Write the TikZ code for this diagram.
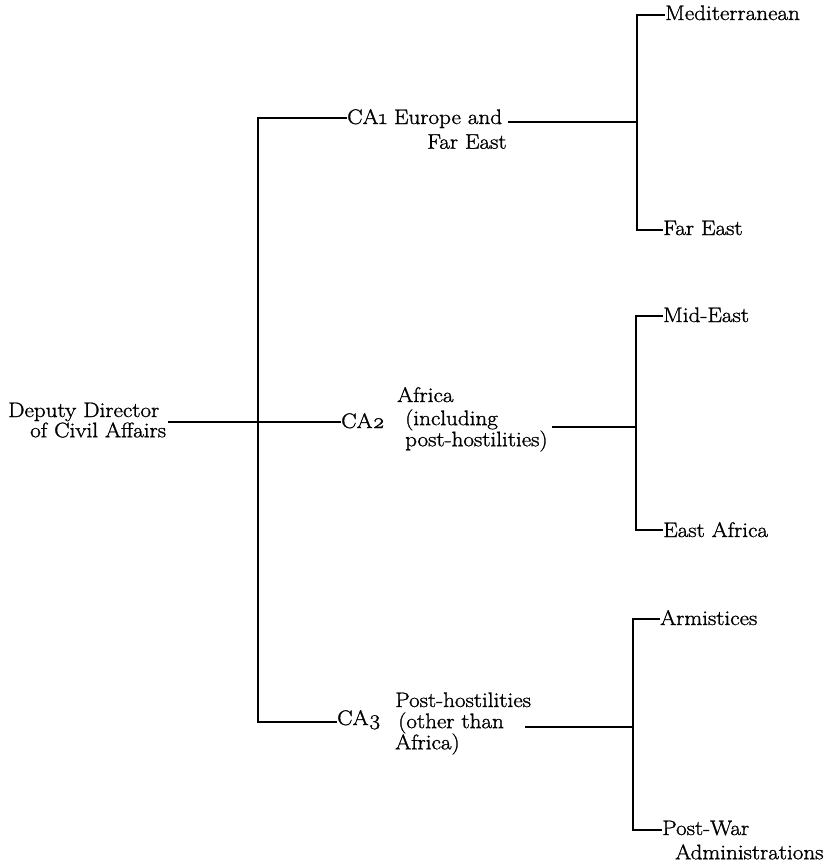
\documentclass[tikz,border=0pt]{standalone}
\usepackage{fontspec}
\setmainfont{Latin Modern Roman}[FakeStretch=1.1, FakeBold=1.3]
\newcommand{\blk}[1]{\begin{tabular}[t]{@{}l@{}}#1\end{tabular}}
\tikzset{
  lab/.style={inner sep=0pt, anchor=base west,
    font=\fontsize{21}{20}\selectfont\def\arraystretch{0.9}},
  conn/.style={line width=2pt, line join=miter, line cap=butt}
}
\begin{document}
\begin{tikzpicture}[x=1pt,y=-1pt]
\useasboundingbox (0,0) rectangle (832,865);
% labels
\node[lab] (root) at (8,417) {\blk{Deputy Director\\ \hspace*{22pt}of Civil Affairs}};
\node[lab] (ca1) at (347,124) {\blk{CA\oldstylenums{1} Europe and\\[5pt] \hspace*{80pt}Far East}};
\node[lab] (ca2) at (341,428) {CA\oldstylenums{2}};
\node[lab] (ca2a) at (397,402) {\blk{Africa\\[2pt] \hspace*{8pt}(including\\ \hspace*{8pt}post-hostilities)}};
\node[lab] (ca3) at (337,725) {CA\oldstylenums{3}};
\node[lab] (ca3a) at (395,707) {\blk{Post-hostilities\\ \hspace*{3pt}(other than\\ Africa)}};
\node[lab] (med) at (665,20) {Mediterranean};
\node[lab] (fe) at (663,235) {Far East};
\node[lab] (mid) at (663,322) {Mid-East};
\node[lab] (ea) at (663,537) {East Africa};
\node[lab] (arm) at (660,625) {Armistices};
\node[lab] (pw) at (662,835) {\blk{Post-War\\[4pt] \hspace*{13pt}Administrations}};
% junctions
\coordinate (r) at (168,422);
\coordinate (t1) at (258,118);
\coordinate (t3) at (258,722);
\coordinate (e1) at (508,122);
\coordinate (b1) at (637,122);
\coordinate (m1) at (637,15);
\coordinate (f1) at (637,230);
\coordinate (s2) at (552,427);
\coordinate (b2) at (636,427);
\coordinate (m2) at (636,316);
\coordinate (f2) at (636,530);
\coordinate (s3) at (525,727);
\coordinate (b3) at (633,727);
\coordinate (m3) at (633,619);
\coordinate (f3) at (633,830);
% connectors
\draw[conn] (t1 -| ca1.west) -- (t1) -- (t3) -- (t3 -| ca3.west);
\draw[conn] (r) -- (r -| ca2.west);
\draw[conn] (e1) -- (b1);
\draw[conn] (med.west |- m1) -- (m1) -- (f1) -- (fe.west |- f1);
\draw[conn] (s2) -- (b2);
\draw[conn] (mid.west |- m2) -- (m2) -- (f2) -- (ea.west |- f2);
\draw[conn] (s3) -- (b3);
\draw[conn] (arm.west |- m3) -- (m3) -- (f3) -- (pw.west |- f3);
\end{tikzpicture}
\end{document}
